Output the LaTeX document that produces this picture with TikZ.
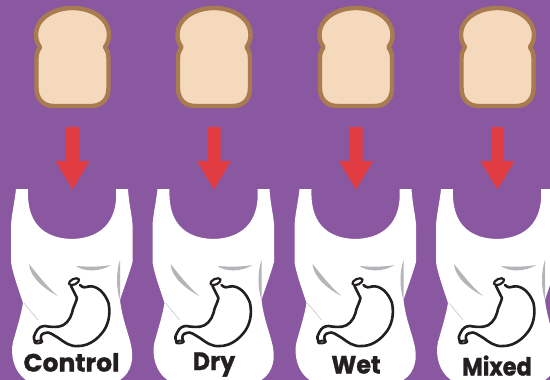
\documentclass[tikz,border=0pt]{standalone}
\usepackage{fontspec}
\setmainfont{Poppins}[BoldFeatures={FakeBold=1.2}]
\definecolor{bgp}{HTML}{8A57A1}
\definecolor{crust}{HTML}{A97C50}
\definecolor{crumb}{HTML}{F5D9BC}
\definecolor{arr}{HTML}{E13C42}
\definecolor{wrink}{HTML}{B3B5B8}
\definecolor{ink}{HTML}{231F20}
\tikzset{
  bread/.style={draw=crust,line width=4.4pt,fill=crumb,line join=round},
  downarrow/.style={fill=arr,draw=none},
  singlet/.style={fill=white,draw=none},
  wrinkle/.style={fill=wrink,draw=none},
  stomach/.style={draw=ink,line width=2.6pt,fill=white,line join=round,line cap=round},
  lab/.style={text=ink,font=\bfseries\fontsize{25}{25}\selectfont,inner sep=0pt,anchor=base,transform shape}
}
\newcommand{\unitfig}[1]{%
\begin{scope}[xshift=#1pt]
  \path[bread] (54,106) .. controls (43,106) and (36.5,99) .. (36.5,88) -- (36.5,58)
     .. controls (36.5,53) and (38,50) .. (40,47) .. controls (37,43) and (36,39) .. (36,35)
     .. controls (36,18) and (54,8) .. (72.5,8) .. controls (91,8) and (109,18) .. (109,35)
     .. controls (109,39) and (108,43) .. (105,47) .. controls (107,50) and (108.5,53) .. (108.5,58)
     -- (108.5,88) .. controls (108.5,99) and (102,106) .. (91,106) -- cycle;
  \path[downarrow] (66,127) -- (79,127) -- (79,161) -- (89.5,161) -- (72.5,189.5) -- (55.5,161) -- (66,161) -- cycle;
  \path[singlet] (16,189) -- (28,189) .. controls (27,212) and (34,238) .. (72,239)
     .. controls (106,238) and (118,216) .. (116,189) -- (128,189)
     .. controls (129,205) and (132,215) .. (132.5,225) -- (132.5,262)
     .. controls (128,278) and (123,290) .. (120,300) .. controls (122,318) and (128,332) .. (131,345)
     .. controls (134,358) and (132,372) .. (120,380) -- (26,380)
     .. controls (14,372) and (10,355) .. (13,342) .. controls (17,328) and (21,315) .. (23,303)
     .. controls (19,290) and (13,275) .. (11,262) -- (11,225)
     .. controls (12,212) and (15,200) .. (16,189) -- cycle;
  \path[wrinkle] (29,264) .. controls (38,275) and (48,288) .. (58,296) .. controls (46,290) and (30,278) .. (29,264) -- cycle;
  \path[wrinkle] (76,266) .. controls (88,267) and (100,267) .. (111,265) .. controls (100,272) and (84,272) .. (76,266) -- cycle;
  \path[wrinkle] (120,260) .. controls (116,272) and (116,288) .. (120,300) .. controls (120,288) and (120,272) .. (120,260) -- cycle;
  \draw[wrink,line width=.4pt] (24,303) -- (38,320);
  \path[stomach] (80,285) .. controls (83,288) and (85,287.5) .. (88.5,286.5)
     .. controls (97,285) and (105,293) .. (108.5,303)
     .. controls (111,315) and (108,326) .. (102,333)
     .. controls (95,342) and (86,346) .. (78.5,346)
     .. controls (70,347) and (64,342) .. (58.5,338)
     .. controls (53,335) and (49,331) .. (45,333)
     .. controls (41,334) and (40,336) .. (41.5,341)
     -- (35,342)
     .. controls (33,337) and (34,335) .. (36,332)
     .. controls (38,328) and (41,326) .. (45,326)
     .. controls (50,327) and (54,327) .. (58.5,326.7)
     .. controls (65,326) and (70,320) .. (72,313)
     .. controls (73,307) and (76,303) .. (77,298)
     -- (71,286);
  \path[stomach,line width=2.2pt] (74,281.7) ellipse [x radius=5.5pt,y radius=2.8pt,rotate=25];
  \path[stomach,line width=2pt] (38.5,342) ellipse [x radius=4pt,y radius=1.4pt,rotate=8];
\end{scope}}
\begin{document}
\begin{tikzpicture}[x=1pt,y=-1pt]
\useasboundingbox (0,0) rectangle (550,380);
\fill[bgp] (0,0) rectangle (550,380);
\begin{scope}
\clip (0,0) rectangle (550,380);
\unitfig{0}
\unitfig{141.5}
\unitfig{283.5}
\unitfig{425}
\end{scope}
\node[lab] (control) at (71.5,371.5) {Control};
\node[lab,xscale=.95] (dry) at (214,370) {Dry};
\node[lab,xscale=.95] (wet) at (356,373.5) {Wet};
\node[lab,xscale=.9] (mixed) at (497,375.5) {Mixed};
\end{tikzpicture}
\end{document}
